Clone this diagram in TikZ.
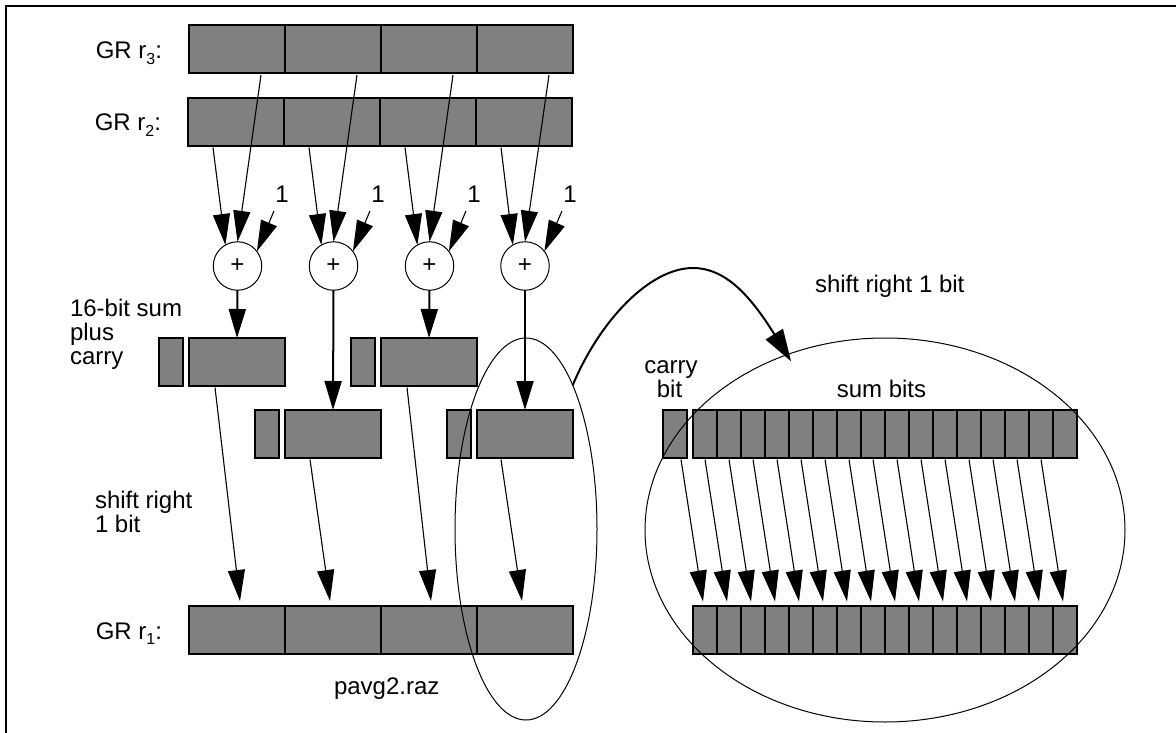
\documentclass[tikz,border=0pt]{standalone}
\usepackage{fontspec}
\setmainfont{Liberation Sans}
\usetikzlibrary{arrows.meta,shapes.geometric}
\newcommand{\subdigit}[1]{\raisebox{-5.5pt}{\fontsize{16}{16}\selectfont #1}}
\definecolor{cellgray}{gray}{0.5}
\tikzset{
  cell/.style={draw=black,fill=cellgray,line width=2pt,inner sep=0pt,outer sep=0pt,minimum width=#1,minimum height=48pt},
  cell/.default=96pt,
  adder/.style={circle,draw=black,fill=white,line width=1pt,inner sep=0pt,outer sep=0pt,minimum size=48.5pt,font=\fontsize{24}{24}\selectfont},
  label/.style={inner sep=0pt,outer sep=0pt,anchor=base,font=\fontsize{24}{24}\selectfont},
  thinarrow/.style={draw=black,line width=1.1pt,-{Triangle[length=31pt,width=17pt]}},
  thickarrow/.style={draw=black,line width=2pt,-{Triangle[length=29pt,width=17pt]}},
  plainline/.style={draw=black,line width=1.5pt},
  bubble/.style={ellipse,draw=black,line width=1pt,inner sep=0pt,outer sep=0pt}
}
\begin{document}
\begin{tikzpicture}[x=1pt,y=-1pt]
\useasboundingbox (0,0) rectangle (1176,733);
\coordinate (frameA) at (6,733);
\coordinate (frameB) at (6,6);
\coordinate (frameC) at (1176,6);
\draw[plainline] (frameA) -- (frameB) -- (frameC);

% registers
\foreach \i/\x in {a/237,b/333,c/429,d/525}{
  \node[cell] (rthree\i) at (\x,49.5) {};
  \node[cell] (rtwo\i) at (\x-1,122) {};
  \node[cell] (rone\i) at (\x,629.5) {};
}
% partial results
\node[cell] (suma) at (237,362) {};
\node[cell] (sumb) at (333,434) {};
\node[cell] (sumc) at (429,362) {};
\node[cell] (sumd) at (525,434) {};
\node[cell=24pt] (carrya) at (171,362) {};
\node[cell=24pt] (carryb) at (267,434) {};
\node[cell=24pt] (carryc) at (363,362) {};
\node[cell=24pt] (carryd) at (459,434) {};
% expanded view
\node[cell=24pt] (bigcarry) at (675,434) {};
\foreach \n in {0,...,15}{
  \node[cell=24pt] (top\n) at (705+24*\n,434) {};
  \node[cell=24pt] (bot\n) at (705+24*\n,630) {};
}
% adders
\node[adder] (adda) at (237.5,266) {+};
\node[adder] (addb) at (333.5,266) {+};
\node[adder] (addc) at (429.5,266) {+};
\node[adder] (addd) at (525,266) {+};
% ones
\node[label] (onea) at (282,203) {1};
\node[label] (oneb) at (378,203) {1};
\node[label] (onec) at (474,203) {1};
\node[label] (oned) at (570,203) {1};
% adder inputs
\foreach \i in {a,b,c,d}{
  \draw[thinarrow] ([xshift=24pt,yshift=-1.5pt]rthree\i.south) -- (add\i.90);
  \draw[thinarrow] ([xshift=-23pt,yshift=-1.5pt]rtwo\i.south) -- (add\i.120);
  \draw[thinarrow] ([xshift=-8pt,yshift=-8pt]one\i.south) -- (add\i.37);
}
% adder outputs
\draw[thickarrow] (adda.south) -- (suma.north);
\draw[thickarrow] (addb.south) -- (sumb.north);
\draw[thickarrow] (addc.south) -- (sumc.north);
\draw[thickarrow] (addd.south) -- (sumd.north);
% to r1
\draw[thinarrow] ([xshift=-22pt,yshift=-1.5pt]suma.south) -- ([xshift=3pt,yshift=4.5pt]ronea.north);
\draw[thinarrow] ([xshift=-23pt,yshift=-1.5pt]sumb.south) -- ([xshift=-3pt,yshift=4.5pt]roneb.north);
\draw[thinarrow] ([xshift=-22pt,yshift=-1.5pt]sumc.south) -- ([xshift=2pt,yshift=4.5pt]ronec.north);
\draw[thinarrow] ([xshift=-24pt,yshift=-1.5pt]sumd.south) -- ([xshift=-3pt,yshift=4.5pt]roned.north);
% expanded arrows
\draw[thinarrow] ([xshift=6pt,yshift=-1.5pt]bigcarry.south) -- ([yshift=4.5pt,xshift=-2pt]bot0.north);
\foreach \n [evaluate=\n as \m using int(\n+1)] in {0,...,14}{
  \draw[thinarrow] ([xshift=0pt,yshift=-1.5pt]top\n.south) -- ([yshift=4.5pt,xshift=-2pt]bot\m.north);
}
% bubbles
\node[bubble,minimum width=142pt,minimum height=382pt] (bubblea) at (526,529) {};
\node[bubble,minimum width=480pt,minimum height=384pt] (bubbleb) at (885,530) {};
\coordinate (curvepeak) at (693,268);
\draw[draw=black,line width=2pt,-{Triangle[length=32pt,width=20pt]}]
  (bubblea.72) .. controls (600,320) and (650,268) .. (curvepeak)
  .. controls (725,268) and (750,295) .. ([yshift=-8pt]bubbleb.118.7);
% labels
\node[label,anchor=base east] (lthree) at (162,59) {GR r\subdigit{3}:};
\node[label,anchor=base east] (ltwo) at (161,131) {GR r\subdigit{2}:};
\node[label,anchor=base east] (lone) at (162,639) {GR r\subdigit{1}:};
\node[label,anchor=base west] (lsum) at (70,316) {16-bit sum};
\node[label,anchor=base west] (lplus) at (70,340) {plus};
\node[label,anchor=base west] (lcarry) at (70,364) {carry};
\node[label,anchor=base west] (lshiftb) at (815,292) {shift right 1 bit};
\node[label] (lcarrybit) at (671,373) {carry};
\node[label] (lbit) at (669.5,397) {bit};
\node[label] (lsumbits) at (881.5,397) {sum bits};
\node[label,anchor=base west] (lshift) at (95,508) {shift right};
\node[label,anchor=base west] (lonebit) at (95,532) {1 bit};
\node[label,anchor=base west] (lfile) at (334,694) {pavg2.raz};
\end{tikzpicture}
\end{document}
